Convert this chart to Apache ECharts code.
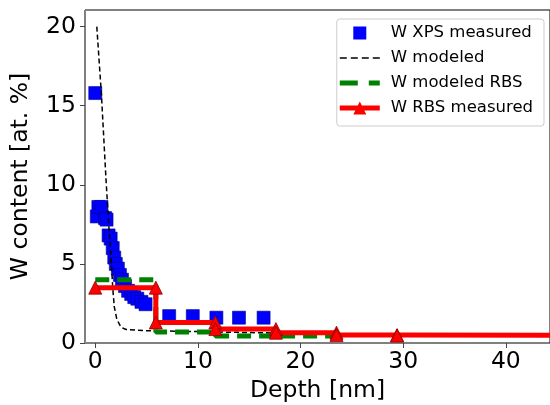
<!DOCTYPE html>
<html>
<head>
<meta charset="utf-8">
<script src="https://cdn.jsdelivr.net/npm/echarts@6/dist/echarts.min.js"></script>
<style>
  html, body { margin: 0; padding: 0; background: #fff; }
  #chart { width: 550px; height: 405px; }
</style>
</head>
<body>
<div id="chart"></div>
<script>
// W XPS measured (depth nm, at.%)
var xpsDepth = [0, 0.15, 0.3, 0.6, 0.95, 1.1, 1.3, 1.5, 1.7, 1.85, 2.0, 2.2, 2.4, 2.6, 2.9, 3.2, 3.5, 3.8, 4.1, 4.5, 4.9, 7.2, 9.5, 11.8, 14.0, 16.4];
var xpsW = [15.8, 8.0, 8.6, 8.6, 7.9, 7.8, 6.8, 6.6, 6.0, 5.4, 5.0, 4.7, 4.3, 4.0, 3.6, 3.3, 3.1, 2.9, 2.8, 2.6, 2.45, 1.7, 1.7, 1.6, 1.6, 1.6];

// W modeled
var modDepth = [0.15, 0.6, 1.05, 1.3, 1.55, 1.7, 1.85, 2.1, 2.5, 3.0, 5.0, 10.0, 15.0, 20.0, 24.0];
var modW = [20.0, 15.7, 10.3, 7.6, 5.3, 3.5, 2.3, 1.5, 1.0, 0.85, 0.78, 0.72, 0.66, 0.6, 0.55];

// W modeled RBS (step profile)
var rbsModDepth = [0, 5.9, 5.9, 11.7, 11.7, 23.5];
var rbsModW = [4.0, 4.0, 0.7, 0.7, 0.45, 0.45];

// W RBS measured (step profile)
var rbsDepth = [0, 5.9, 5.9, 11.7, 11.7, 17.6, 17.6, 23.5, 23.5, 29.4, 29.4, 60];
var rbsW = [3.5, 3.5, 1.3, 1.3, 0.88, 0.88, 0.65, 0.65, 0.5, 0.5, 0.47, 0.47];

var xTicks = [0, 10, 20, 30, 40];
var yTicks = [0, 5, 10, 15, 20];

function pairs(xs, ys) {
  return xs.map(function (x, i) { return [x, ys[i]]; });
}

// legend icons (matplotlib-like handles)
var iconSquare = 'path://M0,0h10v10h-10z';
var iconDashThin = 'path://M0,0h7v1.5h-7z M11,0h7v1.5h-7z M22,0h7v1.5h-7z M33,0h7v1.5h-7z';
var iconDashThick = 'path://M0,0h18v5h-18z M29,0h11v5h-11z';
var iconRedLine = 'path://M0,4h40v5h-40z M20,0L26.5,13L13.5,13z';

var font = 'DejaVu Sans';
var chart = echarts.init(document.getElementById('chart'));
chart.setOption({
  animation: false,
  textStyle: { fontFamily: font },
  grid: {
    left: 85, top: 10, right: 0, bottom: 62,
    containLabel: false, outerBoundsMode: 'none',
    show: true, borderColor: '#000', borderWidth: 1
  },
  legend: {
    orient: 'vertical',
    right: 6, top: 19,
    padding: [5, 11, 9, 3],
    backgroundColor: '#fff',
    borderColor: '#ccc', borderWidth: 1, borderRadius: 3,
    itemWidth: 40, itemHeight: 13, itemGap: 7,
    symbolKeepAspect: true,
    textStyle: { fontFamily: font, fontSize: 16.5, color: '#000', lineHeight: 18, padding: [0, 0, 0, 6] },
    data: [
      { name: 'W XPS measured', icon: iconSquare, itemStyle: { color: '#0000ff', borderWidth: 0 } },
      { name: 'W modeled', icon: iconDashThin, itemStyle: { color: '#000', borderWidth: 0 } },
      { name: 'W modeled RBS', icon: iconDashThick, itemStyle: { color: '#008000', borderWidth: 0 } },
      { name: 'W RBS measured', icon: iconRedLine, itemStyle: { color: '#ff0000', borderWidth: 0 } }
    ]
  },
  xAxis: {
    type: 'value', min: -1, max: 44.3,
    name: 'Depth [nm]', nameLocation: 'middle', nameGap: 36,
    nameTextStyle: { fontFamily: font, fontSize: 23.5, color: '#000' },
    splitLine: { show: false },
    axisLine: { onZero: false, lineStyle: { color: '#808080', width: 1 } },
    axisTick: { customValues: xTicks, length: 5, lineStyle: { color: '#444' } },
    axisLabel: { customValues: xTicks, fontFamily: font, fontSize: 23.5, color: '#000', margin: 7 }
  },
  yAxis: {
    type: 'value', min: 0, max: 21.05,
    name: 'W content [at. %]', nameLocation: 'middle', nameGap: 52,
    nameTextStyle: { fontFamily: font, fontSize: 23.5, color: '#000' },
    splitLine: { show: false },
    axisLine: { onZero: false, lineStyle: { color: '#808080', width: 1 } },
    axisTick: { customValues: yTicks, length: 5, lineStyle: { color: '#444' } },
    axisLabel: { customValues: yTicks, fontFamily: font, fontSize: 23.5, color: '#000', margin: 9 }
  },
  series: [
    {
      name: 'W XPS measured', type: 'scatter',
      symbol: 'rect', symbolSize: 13,
      itemStyle: { color: '#0000ff', borderColor: '#00008b', borderWidth: 0.6, opacity: 1 },
      data: pairs(xpsDepth, xpsW), z: 2
    },
    {
      name: 'W modeled', type: 'line', showSymbol: false, symbol: 'none',
      lineStyle: { color: '#000', width: 1.5, type: [5, 3] },
      itemStyle: { color: '#000' },
      data: pairs(modDepth, modW), z: 3
    },
    {
      name: 'W modeled RBS', type: 'line', showSymbol: false, symbol: 'none',
      lineStyle: { color: '#008000', width: 5, type: [14, 8] },
      itemStyle: { color: '#008000' },
      data: pairs(rbsModDepth, rbsModW), z: 4
    },
    {
      name: 'W RBS measured', type: 'line',
      symbol: 'triangle', symbolSize: 13,
      lineStyle: { color: '#ff0000', width: 5 },
      itemStyle: { color: '#ff0000', borderColor: '#8b0000', borderWidth: 0.8 },
      data: pairs(rbsDepth, rbsW), z: 5
    }
  ]
});
</script>
</body>
</html>
